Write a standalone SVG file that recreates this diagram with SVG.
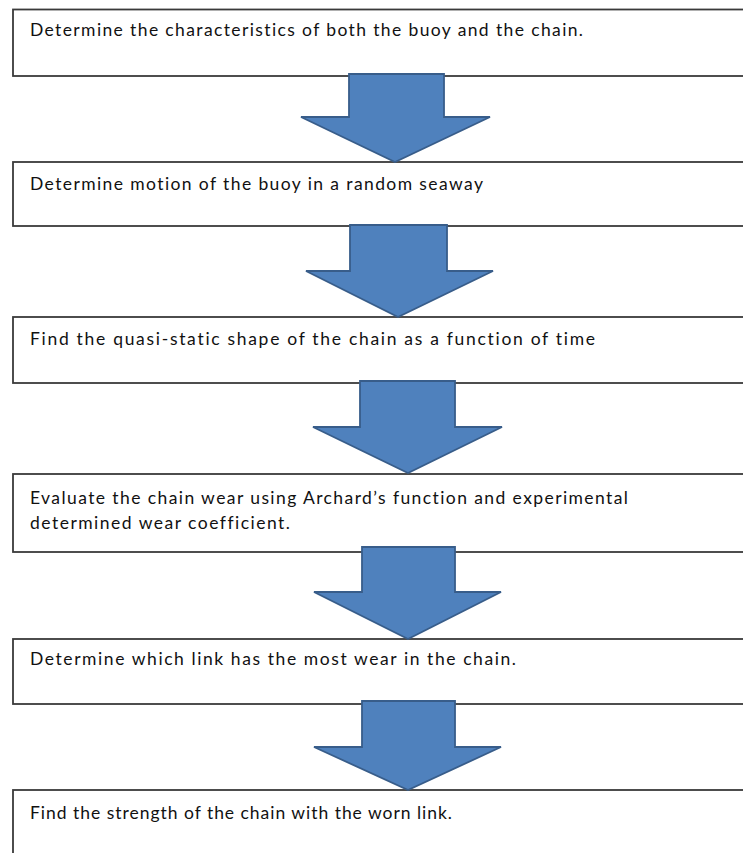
<svg xmlns="http://www.w3.org/2000/svg" width="743" height="853" viewBox="0 0 743 853">
<style>
.box{fill:#ffffff;stroke:#3a3a3a;stroke-width:1.8}
.arr{fill:#4f81bd;stroke:#385d8a;stroke-width:1.8;stroke-linejoin:miter}
.t{font-family:Lato,"Liberation Sans",Arial,sans-serif;font-size:17.5px;fill:#111111;font-variant-ligatures:none}
</style>
<rect width="743" height="853" fill="#ffffff"/>
<g id="node1"><rect class="box" x="13" y="9.5" width="760" height="66.5"/><text class="t" x="30" y="36" textLength="553">Determine the characteristics of both the buoy and the chain.</text></g>
<g id="node2"><rect class="box" x="13" y="162" width="760" height="64"/><text class="t" x="30" y="190" textLength="453">Determine motion of the buoy in a random seaway</text></g>
<g id="node3"><rect class="box" x="13" y="317" width="760" height="66"/><text class="t" x="30" y="345" textLength="565">Find the quasi-static shape of the chain as a function of time</text></g>
<g id="node4"><rect class="box" x="13" y="474" width="760" height="78"/><text class="t" x="30" y="504" textLength="598">Evaluate the chain wear using Archard’s function and experimental</text><text class="t" x="30" y="529" textLength="260">determined wear coefficient.</text></g>
<g id="node5"><rect class="box" x="13" y="639" width="760" height="65"/><text class="t" x="30" y="665" textLength="486">Determine which link has the most wear in the chain.</text></g>
<g id="node6"><rect class="box" x="13" y="790" width="760" height="100"/><text class="t" x="30" y="819" textLength="422">Find the strength of the chain with the worn link.</text></g>
<g id="connectors">
<polygon class="arr" points="349,74 444,74 444,117 490,117 395,162 301,117 349,117"/>
<polygon class="arr" points="350,225 447,225 447,271 493,271 398,317 306,271 350,271"/>
<polygon class="arr" points="360,381 455,381 455,427 502,427 408,473 313,427 360,427"/>
<polygon class="arr" points="362,547 455,547 455,592 501,592 408,639 314,592 362,592"/>
<polygon class="arr" points="362,701 455,701 455,747 501,747 408,790 314,747 362,747"/>
</g>
</svg>
